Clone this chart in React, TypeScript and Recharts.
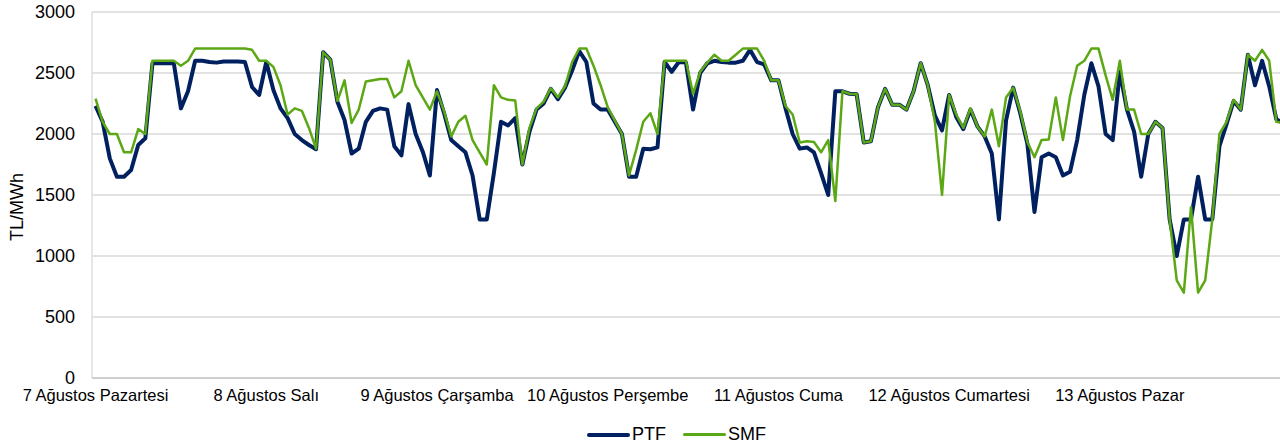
import React from 'react';
import { LineChart, Line, XAxis, YAxis, CartesianGrid, Legend } from 'recharts';

const dayLabels = [
  '7 Ağustos Pazartesi',
  '8 Ağustos Salı',
  '9 Ağustos Çarşamba',
  '10 Ağustos Perşembe',
  '11 Ağustos Cuma',
  '12 Ağustos Cumartesi',
  '13 Ağustos Pazar',
];

const yTicks = [0, 500, 1000, 1500, 2000, 2500, 3000];

const ptf = [
  2230, 2100, 1800, 1650, 1650, 1705, 1910, 1965, 2580, 2580, 2580, 2580, 2210, 2350, 2600, 2600, 2590, 2585, 2595, 2595, 2595, 2590, 2385, 2320,
  2590, 2360, 2210, 2130, 2000, 1950, 1910, 1875, 2670, 2610, 2265, 2115, 1840, 1880, 2100, 2190, 2210, 2200, 1900, 1825, 2245, 2000, 1855, 1660,
  2360, 2170, 1950, 1900, 1850, 1660, 1300, 1300, 1680, 2100, 2070, 2130, 1750, 2020, 2200, 2250, 2370, 2285, 2380, 2520, 2680, 2590, 2250, 2200,
  2200, 2100, 2000, 1650, 1650, 1880, 1875, 1890, 2590, 2510, 2590, 2585, 2200, 2500, 2580, 2600, 2590, 2585, 2585, 2600, 2690, 2590, 2570, 2440,
  2440, 2210, 2000, 1880, 1890, 1850, 1680, 1500, 2350, 2350, 2330, 2325, 1930, 1940, 2220, 2370, 2240, 2240, 2200, 2350, 2580, 2400, 2150, 2030,
  2320, 2140, 2040, 2200, 2060, 1980, 1840, 1300, 2110, 2380, 2170, 1920, 1360, 1810, 1840, 1810, 1660, 1690, 1950, 2320, 2580, 2390, 2000, 1950,
  2510, 2200, 2020, 1650, 2000, 2100, 2050, 1300, 1000, 1300, 1300, 1650, 1300, 1300, 1900, 2080, 2270, 2200, 2650, 2400, 2600, 2390, 2120, 2090,
];

const smf = [
  2290, 2100, 2000, 2000, 1850, 1850, 2040, 2000, 2600, 2600, 2600, 2600, 2560, 2600, 2700, 2700, 2700, 2700, 2700, 2700, 2700, 2700, 2690, 2600,
  2600, 2550, 2400, 2160, 2210, 2190, 2050, 1880, 2670, 2610, 2270, 2440, 2090, 2200, 2430, 2440, 2450, 2450, 2300, 2350, 2600, 2400, 2300, 2200,
  2350, 2185, 1980, 2100, 2150, 1950, 1850, 1750, 2400, 2300, 2280, 2275, 1750, 2050, 2210, 2265, 2375, 2300, 2390, 2590, 2700, 2700, 2560, 2400,
  2220, 2110, 2000, 1660, 1870, 2100, 2170, 2000, 2600, 2600, 2600, 2600, 2330, 2510, 2585, 2650, 2600, 2600, 2650, 2700, 2700, 2700, 2600, 2440,
  2440, 2230, 2160, 1930, 1940, 1935, 1850, 1950, 1450, 2350, 2330, 2325, 1930, 1940, 2220, 2370, 2240, 2240, 2200, 2350, 2580, 2400, 2100, 1500,
  2320, 2160, 2050, 2210, 2060, 1980, 2200, 1900, 2300, 2380, 2185, 1935, 1810, 1950, 1955, 2300, 1950, 2310, 2560, 2600, 2700, 2700, 2480, 2280,
  2600, 2200, 2200, 2000, 2000, 2100, 2050, 1300, 800, 700, 1400, 700, 800, 1300, 2000, 2100, 2280, 2200, 2650, 2600, 2690, 2600, 2100, 2090,
];

const HOURS_PER_DAY = 24;
const data = ptf.map((v, i) => ({ h: i, PTF: v, SMF: smf[i] }));
const n = data.length;
const labelTicks = dayLabels.map((_, d) => d * HOURS_PER_DAY);
const gridTicks = Array.from({ length: n / 12 + 1 }, (_, k) => k * 12 - 0.5);

const FONT = '"Liberation Sans", Arial, sans-serif';
const NAVY = '#002060';
const GREEN = '#5CA814';
const GRID = '#d9d9d9';

const LegendContent = (props: any) => {
  const payload = props.payload || [];
  return (
    <div style={{ display: 'flex', alignItems: 'center', fontFamily: FONT, fontSize: 18, color: '#000', whiteSpace: 'nowrap' }}>
      {payload.map((p: any, idx: number) => (
        <div key={p.value} style={{ display: 'flex', alignItems: 'center', marginLeft: idx === 0 ? 0 : 17 }}>
          <span style={{ display: 'inline-block', width: 43, height: p.value === 'PTF' ? 4 : 2.5, background: p.color, borderRadius: 2 }} />
          <span style={{ marginLeft: 2 }}>{p.value}</span>
        </div>
      ))}
    </div>
  );
};

export default function App() {
  return (
    <div style={{ position: 'absolute', left: 0, top: 0, width: 1280, height: 445, overflow: 'hidden', background: '#fff' }}>
      <LineChart width={1300} height={445} data={data} margin={{ top: 12, right: 13, bottom: 31, left: 0 }}>
        <CartesianGrid xAxisId="grid" stroke={GRID} strokeWidth={1.3} />
        <XAxis
          xAxisId="grid"
          dataKey="h"
          type="number"
          domain={[-0.5, n - 0.5]}
          ticks={gridTicks}
          tick={false}
          tickSize={5}
          height={6}
          axisLine={{ stroke: '#c8c8c8', strokeWidth: 1.3 }}
          tickLine={{ stroke: '#c8c8c8', strokeWidth: 1.3 }}
          interval={0}
          allowDataOverflow
        />
        <XAxis
          xAxisId="lab"
          dataKey="h"
          type="number"
          domain={[-0.5, n - 0.5]}
          ticks={labelTicks}
          tickFormatter={(v: number) => dayLabels[Math.round(v / HOURS_PER_DAY)]}
          axisLine={false}
          tickLine={false}
          tickSize={0}
          tickMargin={5}
          height={30}
          interval={0}
          tick={{ fontFamily: FONT, fontSize: 16.5, fill: '#000' }}
          allowDataOverflow
        />
        <YAxis
          domain={[0, 3000]}
          ticks={yTicks}
          width={92}
          axisLine={false}
          tickLine={false}
          tickSize={0}
          tickMargin={17}
          interval={0}
          tick={{ fontFamily: FONT, fontSize: 18, fill: '#000' }}
          label={{
            content: () => (
              <text x={17} y={207} transform="rotate(-90, 17, 207)" textAnchor="middle" dominantBaseline="central" fontFamily={FONT} fontSize={18} fill="#000">
                TL/MWh
              </text>
            ),
          }}
        />
        <Legend
          layout="horizontal"
          verticalAlign="middle"
          align="center"
          content={<LegendContent />}
          wrapperStyle={{ position: 'absolute', left: 587, top: 424, width: 'auto', height: 'auto' }}
        />
        <Line xAxisId="grid" type="linear" dataKey="PTF" stroke={NAVY} strokeWidth={4} dot={false} activeDot={false} isAnimationActive={false} strokeLinejoin="round" />
        <Line xAxisId="grid" type="linear" dataKey="SMF" stroke={GREEN} strokeWidth={2.5} dot={false} activeDot={false} isAnimationActive={false} strokeLinejoin="round" />
      </LineChart>
    </div>
  );
}
